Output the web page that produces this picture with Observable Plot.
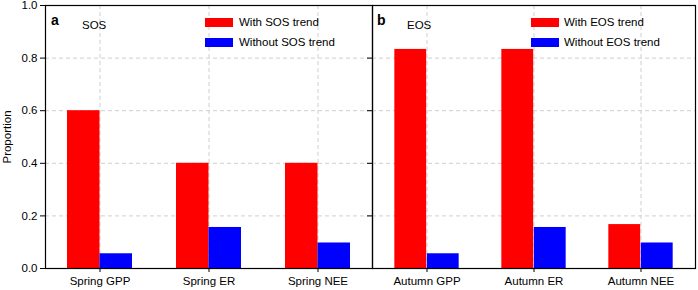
<!DOCTYPE html>
<html>
<head>
<meta charset="utf-8">
<script src="https://cdn.jsdelivr.net/npm/d3@7"></script>
<script src="https://cdn.jsdelivr.net/npm/@observablehq/plot@0.6"></script>
<style>
  html, body { margin: 0; padding: 0; background: white; }
  #wrap { position: relative; width: 698px; height: 290px; font-family: "Liberation Sans", Arial, sans-serif; color: #000; }
  .panel { position: absolute; top: 0; }
  .lbl { position: absolute; white-space: nowrap; font-size: 11.5px; line-height: 1; }
  .sw { position: absolute; width: 28px; height: 9px; }
</style>
</head>
<body>
<div id="wrap"></div>
<script>
// ---- data ----
const springCats = ["Spring GPP", "Spring ER", "Spring NEE"];
const springWith = [0.6, 0.4, 0.4];
const springWithout = [0.056, 0.156, 0.097];
const autumnCats = ["Autumn GPP", "Autumn ER", "Autumn NEE"];
const autumnWith = [0.833, 0.833, 0.167];
const autumnWithout = [0.056, 0.156, 0.097];
const yTicks = [0, 0.2, 0.4, 0.6, 0.8, 1.0];
const gridY = [0.2, 0.4, 0.6, 0.8];
const seriesColors = ["#ff0000", "#0000ff"];

const wrap = document.getElementById("wrap");

function panel({cats, withV, withoutV, width, left, marginLeft, marginRight, showYLabels}) {
  const data = cats.map((c, i) => ({cat: c, w: withV[i], wo: withoutV[i]}));
  const bw = (width - marginLeft - marginRight) / cats.length;
  const barW = 32.5;
  const chart = Plot.plot({
    width, height: 290,
    marginLeft, marginRight, marginTop: 5, marginBottom: 22,
    style: {fontFamily: "'Liberation Sans', Arial, sans-serif", fontSize: "11.5px", overflow: "visible", background: "transparent"},
    x: {type: "band", domain: cats, padding: 0, label: null, tickSize: 4, tickPadding: 4},
    y: {domain: [0, 1], ticks: yTicks, tickFormat: showYLabels ? d3.format(".1f") : () => "", label: null, tickSize: 5, tickPadding: 3},
    marks: [
      Plot.ruleY(gridY, {stroke: "#cfcfcf", strokeDasharray: "4,3"}),
      Plot.ruleX(cats, {stroke: "#cfcfcf", strokeDasharray: "4,3"}),
      Plot.barY(data, {x: "cat", y: "w", fill: seriesColors[0], insetLeft: bw / 2 - barW, insetRight: bw / 2}),
      Plot.barY(data, {x: "cat", y: "wo", fill: seriesColors[1], insetLeft: bw / 2, insetRight: bw / 2 - barW}),
      Plot.frame({stroke: "#000", strokeWidth: 1.2})
    ]
  });
  const div = document.createElement("div");
  div.className = "panel";
  div.style.left = left + "px";
  div.appendChild(chart);
  wrap.appendChild(div);
}

panel({cats: springCats, withV: springWith, withoutV: springWithout, width: 373, left: 0, marginLeft: 45, marginRight: 1, showYLabels: true});
panel({cats: autumnCats, withV: autumnWith, withoutV: autumnWithout, width: 326, left: 372, marginLeft: 0, marginRight: 3, showYLabels: false});

function addText(txt, x, y, extra) {
  const d = document.createElement("div");
  d.className = "lbl";
  d.textContent = txt;
  d.style.left = x + "px";
  d.style.top = y + "px";
  if (extra) Object.assign(d.style, extra);
  wrap.appendChild(d);
  return d;
}
function addSwatch(color, x, y) {
  const d = document.createElement("div");
  d.className = "sw";
  d.style.left = x + "px";
  d.style.top = y + "px";
  d.style.background = color;
  wrap.appendChild(d);
}

// panel labels
addText("a", 51, 13, {fontWeight: "bold", fontSize: "14px"});
addText("SOS", 82, 20);
addText("b", 377, 13, {fontWeight: "bold", fontSize: "14px"});
addText("EOS", 407, 20);

// legends
const legA = ["With SOS trend", "Without SOS trend"];
const legB = ["With EOS trend", "Without EOS trend"];
addSwatch(seriesColors[0], 205, 18);
addSwatch(seriesColors[1], 205, 38);
addText(legA[0], 239, 17);
addText(legA[1], 239, 37);
addSwatch(seriesColors[0], 531, 18);
addSwatch(seriesColors[1], 531, 38);
addText(legB[0], 564, 17);
addText(legB[1], 564, 37);

// y label
addText("Proportion", 8, 137, {transform: "translate(-50%, -50%) rotate(-90deg)", transformOrigin: "center"});
</script>
</body>
</html>
